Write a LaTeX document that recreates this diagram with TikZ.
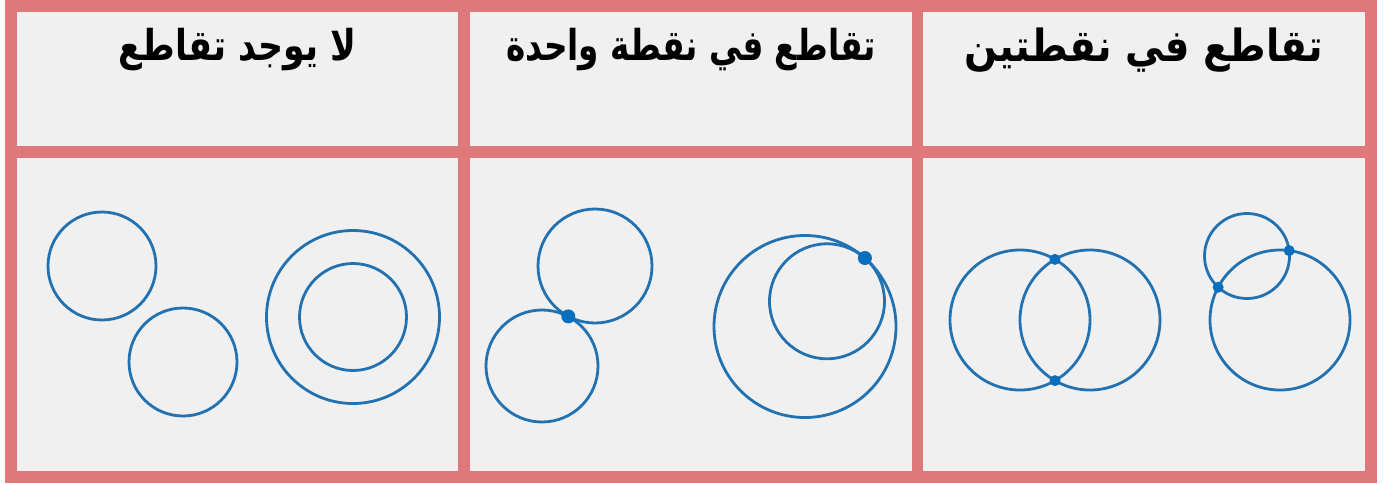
\documentclass[tikz,border=0pt]{standalone}
\usepackage{fontspec}
\usetikzlibrary{intersections}
\TeXXeTstate=1
\newfontfamily\arabicfont[Script=Arabic]{DejaVu Sans}
\definecolor{framepink}{RGB}{222,120,122}
\definecolor{cellgray}{RGB}{240,240,240}
\definecolor{circblue}{RGB}{34,113,177}
\definecolor{dotblue}{RGB}{10,110,190}
\tikzset{
  cell/.style={fill=cellgray},
  circ/.style={draw=circblue, line width=2.8pt},
  title/.style={font=\arabicfont\bfseries\fontsize{34}{40}\selectfont, text=black, inner sep=0pt},
  bigdot/.style={fill=dotblue},
}
\begin{document}
\begin{tikzpicture}[x=1pt,y=-1pt]
\useasboundingbox (0,0) rectangle (1383,483);
\fill[white] (0,0) rectangle (1383,483);
\fill[framepink] (5,0) rectangle (1377,483);
% cells
\fill[cell] (17,12) rectangle (458,146);
\fill[cell] (470,12) rectangle (912,146);
\fill[cell] (923,12) rectangle (1365,146);
\fill[cell] (17,158) rectangle (458,471);
\fill[cell] (470,158) rectangle (912,471);
\fill[cell] (923,158) rectangle (1365,471);
% titles
\node[title] (t1) at (237.5,50) {\scalebox{1.02}[1.25]{\beginR لا يوجد تقاطع\endR}};
\node[title] (t2) at (691,50) {\scalebox{0.96}[1.25]{\beginR تقاطع في نقطة واحدة\endR}};
\node[title] (t3) at (1144,50) {\scalebox{1.14}[1.3]{\beginR تقاطع في نقطتين\endR}};
% panel 1: no intersection
\draw[circ] (102,266) circle[radius=54];
\draw[circ] (183,362) circle[radius=54];
\draw[circ] (353,317) circle[radius=86.5];
\draw[circ] (353,317) circle[radius=53.5];
% panel 2: one point
\draw[circ] (595,266) circle[radius=57];
\draw[circ] (542,366) circle[radius=56];
\fill[bigdot] (568.3,316.4) circle[radius=7];
\draw[circ] (805,326.5) circle[radius=91];
\draw[circ] (827,301.3) circle[radius=57.5];
\fill[bigdot] (864.9,258) circle[radius=7];
% panel 3: two points
\draw[circ, name path=pa] (1020,320) circle[radius=70];
\draw[circ, name path=pb] (1090,320) circle[radius=70];
\fill[bigdot, name intersections={of=pa and pb}] (intersection-1) circle[radius=5.5] (intersection-2) circle[radius=5.5];
\draw[circ, name path=pc] (1247,256) circle[radius=42.5];
\draw[circ, name path=pd] (1280,320) circle[radius=70];
\fill[bigdot, name intersections={of=pc and pd}] (intersection-1) circle[radius=5.5] (intersection-2) circle[radius=5.5];
\end{tikzpicture}
\end{document}
